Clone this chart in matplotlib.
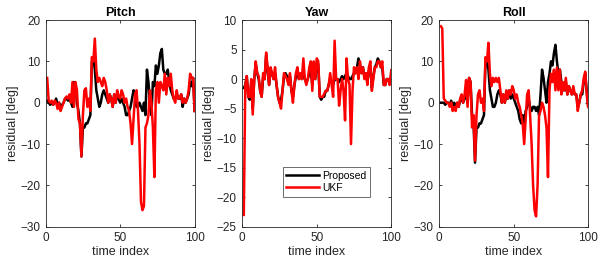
import numpy as np
import matplotlib
matplotlib.use('Agg')
import matplotlib.pyplot as plt

plt.rcParams['font.family'] = ['Liberation Sans', 'DejaVu Sans']

# Dados (índice de tempo 1..100)
t = np.arange(1, 101)

pitch_ukf = [6, 0.5, 0, 0.5, -0.5, 0.5, 0, -1.5, 0, -2,
             -1, 0, 1, 1.5, 1, 2, 0, 5, -1, 5,
             3, -4, -5, -13, -3, 3, 3.5, -1, 1, -2,
             11, 10, 15.5, 8, 5, 6, 5, 4, 6, 5,
             3, 0, 2, 1, -1, 2, 0, 3, 1.5, 1,
             3, 2, 0, 1, -1, -2, -5, -10, -4, 2,
             3, -2, -10, -24, -26, -25, -6, -5, -3, 3,
             0, -6, -18, 3, 5, 0, 5, 4, 3, 7,
             2, 6, 4, 7, 3, 1, 0, 3, 1, 1,
             2, 0, 1, 0, 1, 3, 7, 6, 6, -2]
pitch_prop = [0.5, 0, -0.5, 0, -0.5, 0, 1, -0.5, 0, -1,
              -0.5, 0, 1, 1, 0.5, 1, 0, -1, 5, 4,
              0, -2, -5, -13, -6, -6, -5, -5, -4, -3,
              10, 11, 8, 3, 1, -1, 0, 2, 3, 2,
              1, 0, 2, 1, -1, 2, 0, 2, 1, 0,
              1, 0, -1, -3, -3, -2, -1, 1, 3, 2,
              -1, -1, 0, -1, -2, 0, -3, 8, 5, 0,
              -3, 5, 4, 9, 7, 9, 12, 13, 8, 7,
              7, 8, 5, 3, 2, 1, 1, 2, 1, 1,
              2, -1, 1, 0, 1, 2, 5, 4, 6, -2]

yaw_ukf = [-23, -1, 0.5, -3, -3, 0, -6, 0, 3, 1,
           0.5, -2, -3, 1, 0, 4.5, 2, -1, 2, 1,
           0, 2, -1, -3, -4, -5, -2, 1, 0.5, 0,
           -1, 1, -2, -4, -1, 1, 2, 0, 1, 0,
           3.5, 0, -1, 0, 2, 3, -2, 3, 0, 3.5,
           3, -3, -3, -3, -2.5, -2, -2, -1, 1, -1,
           -3, 6.5, 0, 0, -4.5, -2, 0, -2, -7, 3.5,
           0, -1, -11, -2, 2, 1, 2, 0, 3, 1,
           2, 0, 1, -1, 2, 3, -2, 0, 2, 2,
           3, 3, 2, 3, -1, -1, 0, 0, -1, 1.5]
yaw_prop = [-1.5, -1, 0.5, -3, -3.5, -1, -5, 0, 2.5, 1,
            0, -2, -3, 0.5, 0, 4, 1.5, -1, 1.5, 1,
            0, 1, -1, -3, -4, -3.5, -2, 0.5, 1, 0.5,
            0, 0.5, -2, -3, -1, 0.5, 1, 0, 0.5, 0,
            1, 0, -0.5, 0, 1, 1.5, -1, 2, 0, 2.5,
            2.5, -3, -3.5, -3, -3, -2, -2, -1, 0, -0.5,
            -1, 0, 0, 0, -0.5, 0, 0.5, 0, 0.5, 1,
            0.5, 0, 0, 0.5, 1, 1, 2, 3.5, 2.5, 1,
            2, 0.5, 1, -0.5, 1.5, 2, -1.5, 0.5, 2, 2.5,
            3.5, 3, 2, 2, -1, -1, 0, 0, -0.5, 0.5]

roll_ukf = [18.5, 18, 1, 0.5, 0, 0, -1, 0, -2, -1,
            -2, 0, -1, 1, 2, 0, 2, 5.5, -1, 6,
            5, -6, -3, -14, -3, 2, 3, 0, 1, -2,
            11, 10, 14.5, 7, 4, 6, 5, 6, 5, 6,
            3, 0, 2, 0, 3, 1, 3, 2, 4, 3,
            1, 2, 0, -1, -3, -5, -10, -4, 2, 3,
            -3, -10, -20, -26, -27.5, -20, -3, -2, 0, -1,
            -3, -6, -18, 3, 7, 5, 8, 3, 8.5, 3,
            8, 2, 5, 3, 6, 2, 4, 3, 2, 4,
            2, 2, -2, 0, 2, 3, 6, 7.5, 2, -1]
roll_prop = [0, 0, 0, -0.5, 0, 0, -0.5, 0.5, -1, 0,
             -1, 0, -1, 0.5, 1, 0, 1, 2, 0, 6,
             5, -3, -5, -14.5, -6, -6, -5, -5, -4, -3,
             10, 10, 8, 3, 1, -1, -1, 0, 2, 3,
             2, 0, 2, 0, 2, 1, 3, 1, 2, 1,
             0, -1, -2, -4, -5, -3, -5, -2, -1, 1,
             -1, -2, -1, -1, -2, -1, -3, 2, 8, 6,
             3, 0, 5, 7, 10, 9, 12, 14, 10, 7,
             8, 5, 3, 3, 5, 2, 4, 3, 2, 3,
             2, 2, -1, 0, 2, 2, 5, 7, 3, -1]

titulos = ['Pitch', 'Yaw', 'Roll']
series = [(pitch_prop, pitch_ukf), (yaw_prop, yaw_ukf), (roll_prop, roll_ukf)]
ylims = [(-30, 20), (-25, 10), (-30, 20)]
yticks = [np.arange(-30, 21, 10), np.arange(-25, 11, 5), np.arange(-30, 21, 10)]
lefts = [0.0764, 0.4052, 0.7346]

cinza = '#262626'
fig = plt.figure(figsize=(5.98, 2.6), dpi=100)

for i in range(3):
    ax = fig.add_axes([lefts[i], 0.128, 0.249, 0.795])
    prop, ukf = series[i]
    ax.plot(t, prop, '-', color='black', linewidth=1.8, label='Proposed')
    ax.plot(t, ukf, '-', color='red', linewidth=1.8, label='UKF')
    ax.set_xlim(0, 100)
    ax.set_ylim(*ylims[i])
    ax.set_xticks([0, 50, 100])
    ax.set_yticks(yticks[i])
    ax.tick_params(direction='in', length=2.5, width=0.6, top=True, right=True,
                   labelsize=8.5, colors=cinza, pad=4)
    for sp in ax.spines.values():
        sp.set_color(cinza)
        sp.set_linewidth(0.6)
    ax.set_title(titulos[i], fontsize=9, fontweight='bold', pad=3)
    ax.set_xlabel('time index', fontsize=9, color=cinza, labelpad=1)
    ax.set_ylabel('residual [deg]', fontsize=9, color=cinza, labelpad=1)
    if i == 1:
        leg = ax.legend(loc='lower left', bbox_to_anchor=(0.272, 0.145), fontsize=7.5,
                        handlelength=3.1, borderpad=0.35, labelspacing=0.2,
                        fancybox=False, framealpha=1, handletextpad=0.35,
                        borderaxespad=0)
        leg.get_frame().set_edgecolor('#555555')
        leg.get_frame().set_linewidth(0.6)

fig.savefig('out.png', dpi=100)
